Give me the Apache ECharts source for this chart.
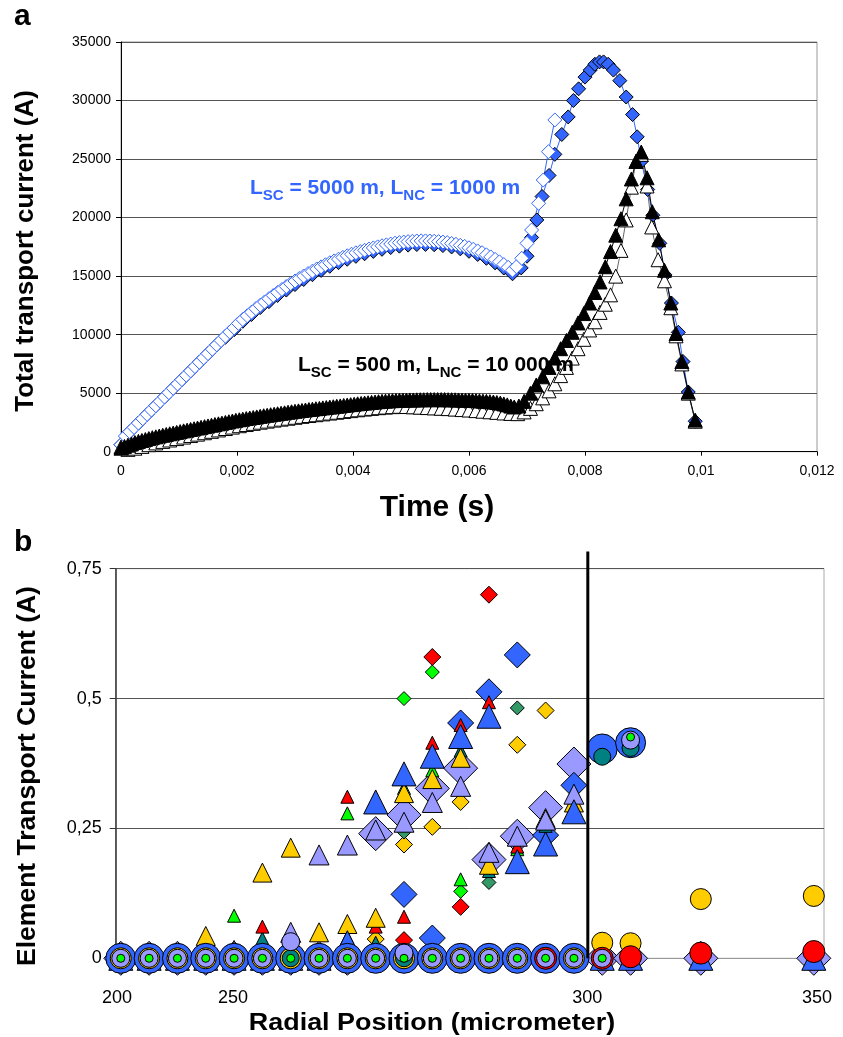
<!DOCTYPE html>
<html><head><meta charset="utf-8">
<script src="https://cdn.jsdelivr.net/npm/echarts@6/dist/echarts.min.js"></script>
<style>html,body{margin:0;padding:0;background:#fff}#c{width:843px;height:1037px}</style>
</head><body><div id="c"></div>
<script>
// ---------- Panel a : total transport current vs time ----------
const aXTicks = [0, 0.002, 0.004, 0.006, 0.008, 0.01, 0.012];
const aYTicks = [0, 5000, 10000, 15000, 20000, 25000, 30000, 35000];

// L_SC = 5000 m, L_NC = 1000 m : open blue diamonds (dense part, regular time step)
const diaOpenStep = 0.000075;
const diaOpenDense = [600,1331,1703,2074,2445,2816,3188,3559,3930,4301,4673,5044,5415,5786,6158,6529,6900,7271,7643,8014,8385,8756,9128,9499,9870,10225,10570,10960,11290,11610,11920,12220,12510,12790,13070,13340,13600,13860,14110,14350,14580,14800,15010,15220,15420,15610,15790,15970,16140,16300,16450,16600,16740,16870,16990,17100,17210,17310,17410,17500,17590,17670,17740,17810,17860,17910,17950,17975,18000,18010,18010,18000,17980,17950,17910,17860,17790,17720,17630,17540,17420,17300,17150,17000,16820,16640,16430,16220,15990,15750,15500];
const diaOpenRiseT = [0.00682,0.00691,0.00700,0.00708,0.00720,0.00728,0.00737,0.00748];
const diaOpenRiseV = [15800,16520,17800,18940,21220,23210,25630,28340];

// filled blue diamonds
const diaFillStep = 0.00015;
const diaFillDense = [600,1700,2445,3188,3930,4673,5415,6158,6900,7643,8385,9128,9770,10420,11140,11720,12310,12820,13350,13810,14280,14710,15120,15490,15840,16150,16440,16690,16910,17110,17290,17440,17560,17650,17700,17710,17680,17610,17490,17330,17120,16850,16520,16130,15690,15200];
const diaFillRiseT = [0.00690,0.00700,0.00708,0.00717,0.00726,0.00738,0.00748,0.00760,0.00771,0.00780,0.00789,0.00800,0.00809,0.00817,0.00825,0.00832,0.00840,0.00849,0.00860,0.00871,0.00882,0.00890,0.00897,0.00908,0.00917,0.00929,0.00938,0.00949,0.00961,0.00969,0.00978,0.00990];
const diaFillRiseV = [15700,16700,18300,19800,21800,23600,25400,27100,28600,30000,31000,32000,32600,33100,33300,33300,33100,32600,31700,30300,28800,26900,24800,22400,20200,17800,15100,12700,10200,7700,5100,2600];

// L_SC = 500 m, L_NC = 10 000 m : filled black triangles
const triFillStep = 0.00006;
const triFillDense = [300,450,560,660,780,880,960,1040,1120,1200,1270,1340,1400,1470,1530,1590,1650,1720,1780,1840,1900,1960,2020,2080,2140,2200,2260,2320,2380,2440,2500,2560,2620,2680,2730,2780,2830,2880,2920,2970,3020,3070,3110,3160,3200,3240,3280,3320,3370,3410,3450,3490,3520,3560,3600,3630,3670,3700,3740,3770,3810,3840,3880,3910,3950,3980,4020,4050,4090,4120,4150,4180,4210,4240,4270,4300,4320,4340,4360,4370,4390,4400,4410,4420,4420,4430,4440,4440,4450,4450,4450,4450,4450,4450,4440,4440,4430,4420,4410,4400,4390,4380,4360,4340,4320,4300,4270,4240,4200,4150,4080,4000,3900,3820];
const triFillRiseT = [0.00686,0.00695,0.00706,0.00716,0.00727,0.00738,0.00748,0.00758,0.00768,0.00778,0.00788,0.00798,0.00808,0.00817,0.00826,0.00835,0.00844,0.00853,0.00862,0.00871,0.00880,0.00888,0.00897,0.00907,0.00916,0.00927,0.00937,0.00948,0.00957,0.00967,0.00978,0.00990];
const triFillRiseV = [3900,4300,5000,5700,6400,7200,8000,8800,9500,10200,11000,11800,12700,13600,14500,15800,17100,18500,19900,21600,23300,24800,25600,23400,20500,18100,15500,12700,10100,7700,5100,2700];

// open triangles
const triOpenStep = 0.00012;
const triOpenDense = [400,200,300,450,600,750,880,1000,1120,1250,1380,1500,1620,1740,1860,1980,2100,2220,2320,2420,2520,2610,2700,2780,2860,2940,3020,3090,3160,3230,3300,3370,3440,3510,3580,3640,3700,3760,3810,3850,3880,3860,3830,3800,3770,3740,3710,3680,3640,3600,3560,3510,3460,3410,3360,3310,3270,3250];
const triOpenRiseT = [0.00695,0.00706,0.00716,0.00727,0.00738,0.00748,0.00758,0.00768,0.00778,0.00788,0.00798,0.00808,0.00817,0.00826,0.00835,0.00844,0.00853,0.00862,0.00871,0.00880,0.00888,0.00897,0.00907,0.00915,0.00926,0.00937,0.00948,0.00957,0.00967,0.00978,0.00990];
const triOpenRiseV = [3400,3700,4100,4600,5200,5800,6500,7200,8000,8800,9600,10400,11100,11900,12600,13400,15000,17200,19800,22600,24800,25400,22700,19200,16400,14600,12300,9900,7500,5000,2600];

// ---------- Panel b : element transport current vs radial position ----------
// element slots along the radius (axis units), last two are the outer elements
const bPos = [0,1,2,3,4,5,6,7,8,9,10,11,12,13,14,15,16,17,18,20.48,24.47];
const bTickPos = [-0.13, 3.96, 16.47, 24.58];
const bTickLabels = ['200', '250', '300', '350'];
const bBoundary = 16.49;      // position of the 300 µm boundary line
const bBoundaryTop = 0.783;   // the boundary line rises slightly above the plot
const n = null;
const lavD   = [0,0,0,0,0,0,0,0,0,0.240,0.276,0.327,0.366,0.190,0.235,0.290,0.374,0,0,0,0];
const blueD  = [0,0,0,0,0,0,0,0,0,0,0.123,0.039,0.453,0.513,0.584,0.237,0.333,n,n,n,n];
const goldD  = [0,0,0,0,0,0,0,0,0,0.037,0.219,0.253,0.301,0,0.411,0.477,0,n,n,n,n];
const seaD   = [0,0,0,0,0,0,0,0,0,0,0.243,0,0,0.146,0.482,0,0,n,n,n,n];
const greenD = [0,0,0,0,0,0,0,0,0,0,0.500,0.551,0.129,0,0,0,0,n,n,n,n];
const redD   = [0,0,0,0,0,0,0,0,0,0,0.035,0.580,0.099,0.700,0,0,0,n,n,n,n];
const tealT  = [0,0,0,0,0,0.038,0,0,0.040,0.030,0,0,0.400,0.168,0,0.255,0,n,n,n,n];
const greenT = [0,0,0,0,0.082,0,0,0,0.279,0,0.328,0.362,0.152,0,0.210,0,0,n,n,n,n];
const redT   = [0,0,0,0,0,0.061,0,0,0.311,0.061,0.080,0.415,0.449,0.493,0.215,0,0,n,n,n,n];
const goldT  = [0,0,0,0.043,0,0.165,0.213,0.050,0.066,0.078,0.318,0.345,0.386,0.180,0,0.270,0.300,n,n,n,n];
const lavT   = [0,0,0,0,0.015,0,0.050,0.199,0.218,0.247,0.262,0.300,0.331,0.204,0.235,0.266,0.316,n,n,n,n];
const blueT  = [0,0,0,0,0,0,0,0,0.030,0.301,0.355,0.389,0.427,0.466,0.186,0.220,0.282,0,0,0,0];
const blueC  = [0,0,0,0,0,0,0,0,0,0,0,0,0,0,0,0,0,0.403,0.415,n,n];
const goldC  = [0,0,0,0,0,0,0,0,0,0,0,0,0,0,0,0,0,0.030,0.029,0.114,0.120];
const redC   = [n,n,n,n,n,n,n,n,n,n,n,n,n,n,n,0,n,0,0.003,0.010,0.013];
const tealC  = [0,0,0,0,0,0,0,0,0,0,0,0,0,0,0,0,0,0.388,0.405,n,n];
const lavC   = [0,0,0,0,0,0,0.032,0,0,0,0.010,0,0,0,0,0,0,0,0.420,n,n];
const greenC = [0,0,0,0,0,0,0,0,0,0,0,0,0,0,0,0,0,0,0.426,n,n];

// ---------- build ----------
const F = '"Liberation Sans", Arial, sans-serif';
const BLUE = '#3366FF', LAV = '#9999FF', GOLD = '#FFCC00', RED = '#FF0000', GREEN = '#00FF00', TEAL = '#008080', SEA = '#339966';

function dense(step, vals) { return vals.map((v, i) => [+(i * step).toFixed(7), v]); }
function pairs(ts, vs) { return ts.map((t, i) => [t, vs[i]]); }
function bData(vals) { const out = []; vals.forEach((v, i) => { if (v !== null) out.push([bPos[i], v]); }); return out; }

function aSeries(name, data, symbol, size, fill, border, lineColor) {
  return { name, type: 'line', xAxisIndex: 0, yAxisIndex: 0, data, symbol, symbolSize: size,
    showSymbol: true, clip: false,
    itemStyle: { color: fill, borderColor: border, borderWidth: 1 },
    lineStyle: { color: lineColor, width: 1 }, emphasis: { disabled: true } };
}
function bSeries(vals, symbol, size, color) {
  return { type: 'scatter', xAxisIndex: 1, yAxisIndex: 1, data: bData(vals), symbol, symbolSize: size,
    clip: false, itemStyle: { color, borderColor: '#000', borderWidth: 1, opacity: 1 }, emphasis: { disabled: true } };
}

const series = [
  aSeries('diaFill', dense(diaFillStep, diaFillDense).concat(pairs(diaFillRiseT, diaFillRiseV)), 'diamond', 14, BLUE, '#000', BLUE),
  aSeries('diaOpen', dense(diaOpenStep, diaOpenDense).concat(pairs(diaOpenRiseT, diaOpenRiseV)), 'diamond', 14, '#fff', BLUE, BLUE),
  aSeries('triOpen', dense(triOpenStep, triOpenDense).concat(pairs(triOpenRiseT, triOpenRiseV)), 'triangle', 14, '#fff', '#000', '#666'),
  aSeries('triFill', dense(triFillStep, triFillDense).concat(pairs(triFillRiseT, triFillRiseV)), 'triangle', 14, '#000', '#000', '#000'),
  bSeries(lavD, 'diamond', 34, LAV),
  bSeries(blueD, 'diamond', 26, BLUE),
  bSeries(goldD, 'diamond', 17, GOLD),
  bSeries(seaD, 'diamond', 14, SEA),
  bSeries(greenD, 'diamond', 14, GREEN),
  bSeries(redD, 'diamond', 17, RED),
  bSeries(tealT, 'triangle', 13, TEAL),
  bSeries(greenT, 'triangle', 13, GREEN),
  bSeries(redT, 'triangle', 13, RED),
  bSeries(goldT, 'triangle', 19, GOLD),
  bSeries(lavT, 'triangle', 20, LAV),
  bSeries(blueT, 'triangle', 24, BLUE),
  bSeries(blueC, 'circle', 30, BLUE),
  bSeries(goldC, 'circle', 21, GOLD),
  bSeries(redC, 'circle', 22, RED),
  bSeries(tealC, 'circle', 17, TEAL),
  bSeries(lavC, 'circle', 18, LAV),
  bSeries(greenC, 'circle', 8, GREEN)
];

const chart = echarts.init(document.getElementById('c'), null, { renderer: 'canvas' });
function rich(color) {
  return {
    m: { fontSize: 21, fontWeight: 'bold', color: color, fontFamily: F, padding: [0, 0, 4, 0], verticalAlign: 'bottom' },
    s: { fontSize: 15, fontWeight: 'bold', color: color, fontFamily: F, verticalAlign: 'bottom' }
  };
}

chart.setOption({
  animation: false,
  backgroundColor: '#fff',
  title: [
    { text: '{m|L}{s|SC}{m| = 5000 m, L}{s|NC}{m| = 1000 m}', left: 250, top: 178, padding: 0, textStyle: { rich: rich(BLUE) } },
    { text: '{m|L}{s|SC}{m| = 500 m, L}{s|NC}{m| = 10 000 m}', left: 298, top: 355, padding: 0, textStyle: { rich: rich('#000') } }
  ],
  grid: [
    { left: 121, right: 26, top: 42, height: 409.7, show: true, borderColor: '#999', borderWidth: 1, backgroundColor: 'transparent' },
    { left: 115.7, right: 19, top: 568.7, height: 389.6, show: true, borderColor: '#aaa', borderWidth: 1, backgroundColor: 'transparent' }
  ],
  xAxis: [
    { gridIndex: 0, type: 'value', min: 0, max: 0.012, interval: 0.002,
      axisLine: { onZero: false, lineStyle: { color: '#000', width: 1 } },
      axisTick: { show: true, length: 4, lineStyle: { color: '#000' } },
      splitLine: { show: false },
      axisLabel: { color: '#000', fontSize: 14, fontFamily: F, margin: 12,
        formatter: v => v === 0 ? '0' : String(parseFloat(v.toFixed(4))).replace('.', ',') } },
    { gridIndex: 1, type: 'value', min: -0.18, max: 24.83,
      axisLine: { onZero: false, lineStyle: { color: '#999', width: 1 } },
      axisTick: { show: false },
      splitLine: { show: false },
      axisLabel: { color: '#000', fontSize: 18, fontFamily: F, margin: 31, customValues: bTickPos,
        formatter: v => { let bi = 0; bTickPos.forEach((p, i) => { if (Math.abs(p - v) < Math.abs(bTickPos[bi] - v)) bi = i; }); return bTickLabels[bi]; } } }
  ],
  yAxis: [
    { gridIndex: 0, type: 'value', min: 0, max: 35000, interval: 5000,
      axisLine: { show: true, onZero: false, lineStyle: { color: '#000', width: 1 } },
      axisTick: { show: true, length: 5, lineStyle: { color: '#000' } },
      splitLine: { show: true, lineStyle: { color: '#555', width: 1 } },
      axisLabel: { color: '#000', fontSize: 14, fontFamily: F, margin: 10, formatter: v => String(v) } },
    { gridIndex: 1, type: 'value', min: 0, max: 0.75, interval: 0.25,
      axisLine: { show: true, onZero: false, lineStyle: { color: '#333', width: 1.5 } },
      axisTick: { show: true, length: 6, lineStyle: { color: '#333' } },
      splitLine: { show: true, lineStyle: { color: '#555', width: 1 } },
      axisLabel: { color: '#000', fontSize: 18, fontFamily: F, margin: 14,
        formatter: v => String(v).replace('.', ',') } }
  ],
  graphic: { elements: [
    { id: 'ta', type: 'text', x: 14, y: 2, style: { text: 'a', font: 'bold 30px ' + F, fill: '#000' } },
    { id: 'tb', type: 'text', x: 14, y: 528, style: { text: 'b', font: 'bold 30px ' + F, fill: '#000' } },
    { id: 'ya', type: 'text', x: 26, y: 251, rotation: Math.PI / 2, style: { text: 'Total transport current (A)', font: 'bold 26px ' + F, fill: '#000', textAlign: 'center', textVerticalAlign: 'middle' } },
    { id: 'xa', type: 'text', x: 437, y: 508, style: { text: 'Time (s)', font: 'bold 30px ' + F, fill: '#000', textAlign: 'center', textVerticalAlign: 'middle' } },
    { id: 'yb', type: 'text', x: 28, y: 776, rotation: Math.PI / 2, style: { text: 'Element Transport Current (A)', font: 'bold 26.5px ' + F, fill: '#000', textAlign: 'center', textVerticalAlign: 'middle' } },
    { id: 'xb', type: 'text', x: 432, y: 1024, scaleX: 1.17, style: { text: 'Radial Position (micrometer)', font: 'bold 23px ' + F, fill: '#000', textAlign: 'center', textVerticalAlign: 'middle' } }
  ] },
  series
});

// boundary line at 300 µm, placed through the panel-b scales
const p0 = chart.convertToPixel({ xAxisIndex: 1, yAxisIndex: 1 }, [bBoundary, 0]);
const p1 = chart.convertToPixel({ xAxisIndex: 1, yAxisIndex: 1 }, [bBoundary, bBoundaryTop]);
chart.setOption({ graphic: { elements: [
  { id: 'boundary', type: 'line', z: 100, shape: { x1: p0[0], y1: p0[1], x2: p1[0], y2: p1[1] },
    style: { stroke: '#000', lineWidth: 3 } }
] } });
</script></body></html>
